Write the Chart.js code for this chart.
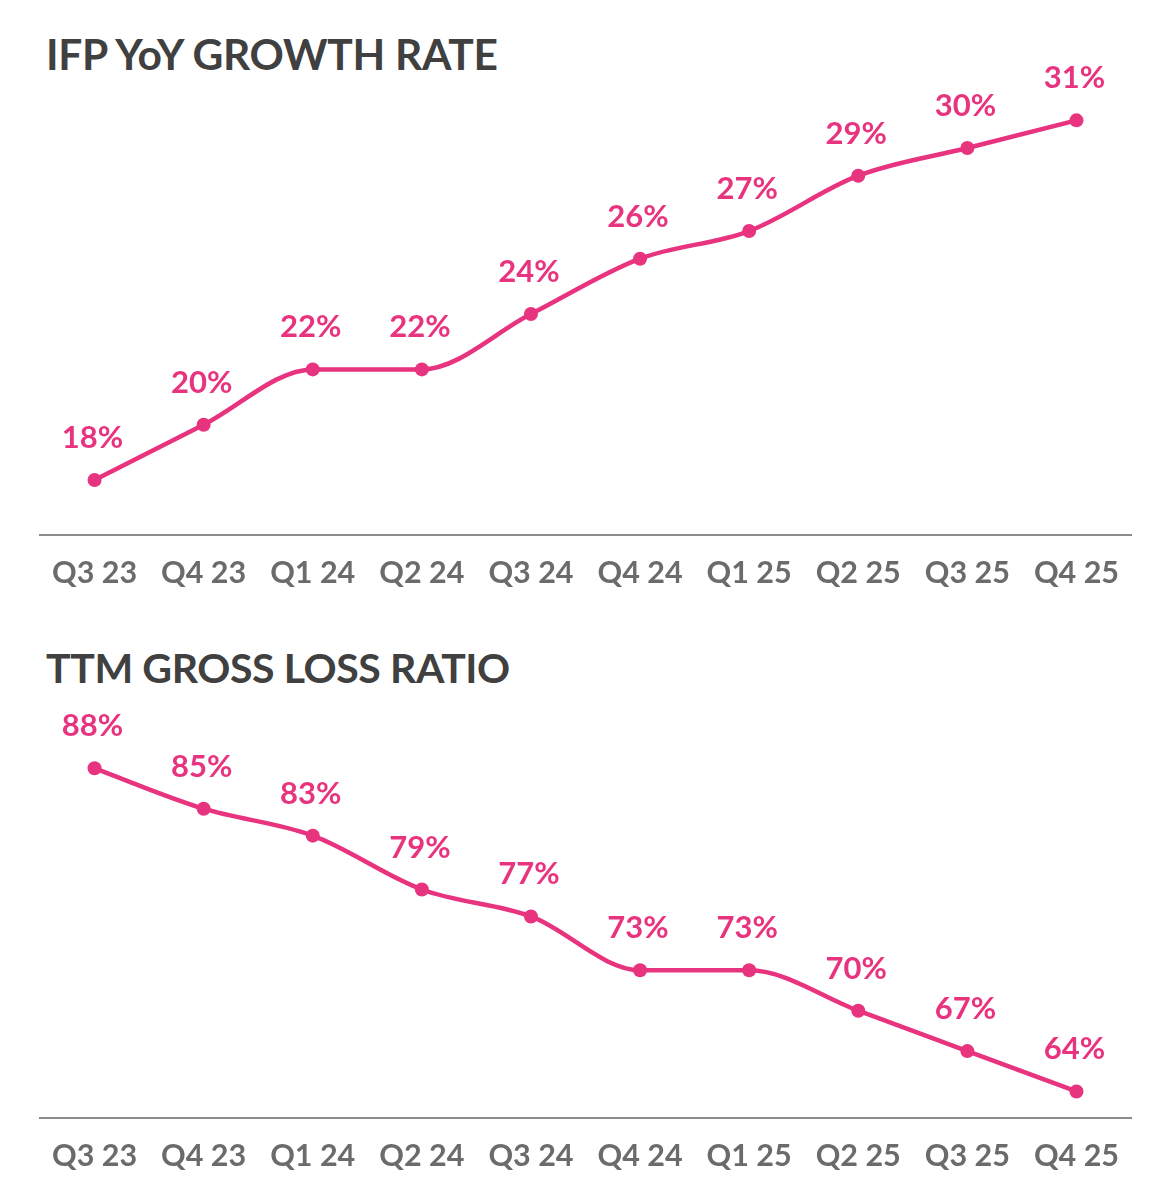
<!DOCTYPE html>
<html>
<head>
<meta charset="utf-8">
<script src="https://cdn.jsdelivr.net/npm/chart.js@4/dist/chart.umd.min.js"></script>
<style>
  html, body { margin: 0; padding: 0; background: #fff; }
  body { width: 1166px; height: 1200px; position: relative; overflow: hidden; font-family: Lato, sans-serif; }
  .title { position: absolute; left: 46px; font-family: Lato, sans-serif; font-weight: 700; font-size: 42.5px; color: #404040; line-height: 1; letter-spacing: -0.3px; }
  .wrap { position: absolute; left: 0; width: 1166px; height: 600px; }
</style>
</head>
<body>
<div class="title" style="top:33px">IFP YoY GROWTH RATE</div>
<div class="title" style="top:647px; font-size:41px; letter-spacing:-0.4px">TTM GROSS LOSS RATIO</div>
<div class="wrap" style="top:0"><canvas id="c1"></canvas></div>
<div class="wrap" style="top:600px"><canvas id="c2"></canvas></div>
<script>
const categories = ["Q3 23","Q4 23","Q1 24","Q2 24","Q3 24","Q4 24","Q1 25","Q2 25","Q3 25","Q4 25"];
const ifpGrowth = [18, 20, 22, 22, 24, 26, 27, 29, 30, 31];
const grossLossRatio = [88, 85, 83, 79, 77, 73, 73, 70, 67, 64];

const PINK = '#E8337F';
const labelPlugin = {
  id: 'pointLabels',
  afterDatasetsDraw(chart) {
    const ctx = chart.ctx;
    const ds = chart.data.datasets[0];
    const meta = chart.getDatasetMeta(0);
    ctx.save();
    ctx.fillStyle = PINK;
    ctx.font = 'bold 31px Lato, sans-serif';
    ctx.textAlign = 'center';
    ctx.textBaseline = 'middle';
    meta.data.forEach((pt, i) => {
      ctx.fillText(ds.data[i] + '%', pt.x - 2, pt.y - 42);
    });
    ctx.restore();
  }
};

function makeChart(id, data, yMin, yMax, padTop, padBottom) {
  return new Chart(document.getElementById(id), {
    type: 'line',
    data: {
      labels: categories,
      datasets: [{
        data: data,
        borderColor: PINK,
        backgroundColor: PINK,
        borderWidth: 4.5,
        pointRadius: 7,
        pointHoverRadius: 7,
        pointBackgroundColor: PINK,
        pointBorderWidth: 0,
        cubicInterpolationMode: 'monotone',
        clip: false
      }]
    },
    options: {
      responsive: true,
      maintainAspectRatio: false,
      animation: false,
      events: [],
      layout: { padding: { left: 40, right: 35, top: padTop, bottom: padBottom } },
      plugins: { legend: { display: false }, tooltip: { enabled: false } },
      scales: {
        x: {
          offset: true,
          grid: { display: false, drawTicks: false },
          border: { display: true, color: '#8C8C8C', width: 2 },
          ticks: {
            color: '#6B6B6B',
            font: { family: 'Lato, sans-serif', weight: 'bold', size: 30.5 },
            padding: 19,
            maxRotation: 0,
            autoSkip: false
          }
        },
        y: { display: false, min: yMin, max: yMax }
      }
    },
    plugins: [labelPlugin]
  });
}

makeChart('c1', ifpGrowth, 16, 33, 65, -10);
makeChart('c2', grossLossRatio, 62, 93, 101, 7);
</script>
</body>
</html>
